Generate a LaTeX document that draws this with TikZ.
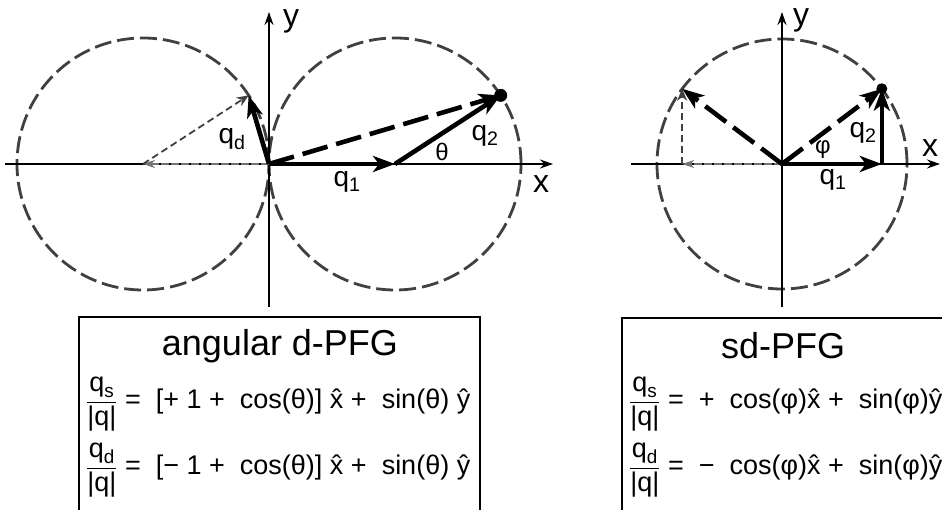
\documentclass[tikz,border=0pt]{standalone}
\usepackage{amsmath}
\usepackage{fontspec}
\setmainfont{Liberation Sans}
\usetikzlibrary{
    arrows.meta,
    positioning,
    calc
}

\tikzset{
    axis/.style={line width=1.6pt,-{Stealth[length=13pt,width=9pt]}},
    circ/.style={draw=black!75,line width=2.8pt,dash pattern=on 17pt off 6pt},
    vec/.style={line width=4.6pt,-{Stealth[length=22pt,width=16pt,inset=6pt]}},
    vecdash/.style={vec,dash pattern=on 26pt off 9pt},
    guide/.style={draw=black!75,line width=1.8pt,dash pattern=on 7pt off 4pt,
        -{Stealth[length=12pt,width=10pt]}},
    back/.style={draw=black!55,line width=2.2pt,dash pattern=on 8pt off 2pt,
        -{Stealth[length=12pt,width=8pt]}},
    lbl/.style={font=\fontsize{28}{32}\selectfont,inner sep=0pt},
    anglbl/.style={font=\fontsize{24}{28}\selectfont,inner sep=0pt},
    axlbl/.style={font=\fontsize{32}{36}\selectfont,inner sep=0pt},
    eqbox/.style={draw,line width=1.8pt},
    title/.style={font=\fontsize{36}{40}\selectfont,inner sep=0pt},
    eqrow/.style={font=\fontsize{27}{32}\selectfont,inner sep=0pt,anchor=west}
}

\begin{document}
\begin{tikzpicture}[x=1pt,y=1pt]

\useasboundingbox (0,0) rectangle (942,510);
\clip (0,0) rectangle (942,510);

% angular d-PFG
\coordinate (O1) at (269,346);
\coordinate (C1) at (395,346);
\coordinate (L1) at (143,346);
\coordinate (S1) at ($(C1)+(33:126)$);
\coordinate (D1) at ($(L1)+(33:126)$);
\coordinate (xa1) at (5,346);
\coordinate (xb1) at (553,346);
\coordinate (ya1) at (269,203);
\coordinate (yb1) at (269,498);

\draw[circ] (C1) circle (126);
\draw[circ] (L1) circle (126);

\draw[axis] (xa1) -- (xb1);
\draw[axis] (ya1) -- (yb1);

\draw[back] (O1) -- (L1);
\draw[guide] (L1) -- (D1);

\draw[vecdash] (O1) -- (S1);
\draw[vec] (O1) -- (D1);
\draw[vec] (O1) -- (C1);
\draw[vec] (C1) -- (S1);
\fill (S1) circle (6.5);

\node[axlbl] (y1) at (291,489) {y};
\node[axlbl] (x1) at (541,326) {x};
\node[lbl] (qd1) at (232,371) {q$_\text{d}$};
\node[lbl] (q11) at (347,328) {q$_\text{1}$};
\node[anglbl] (th1) at (442,358) {θ};
\node[lbl] (q21) at (485,374) {q$_\text{2}$};

% sd-PFG
\coordinate (O2) at (782,346);
\coordinate (S2) at ($(O2)+(37:125)$);
\coordinate (D2) at ($(O2)+(143:125)$);
\coordinate (P2) at (S2 |- O2);
\coordinate (M2) at (D2 |- O2);
\coordinate (xa2) at (631,346);
\coordinate (xb2) at (940,346);
\coordinate (ya2) at (782,203);
\coordinate (yb2) at (782,498);

\draw[circ] (O2) circle (125);

\draw[axis] (xa2) -- (xb2);
\draw[axis] (ya2) -- (yb2);

\draw[back] (O2) -- (M2);
\draw[guide] (M2) -- (D2);

\draw[vecdash] (O2) -- (S2);
\draw[vecdash] (O2) -- (D2);
\draw[vec] (O2) -- (P2);
\draw[vec] (P2) -- (S2);
\fill (S2) circle (5.5);

\node[axlbl] (y2) at (801,490) {y};
\node[axlbl] (x2) at (930,362) {x};
\node[anglbl] (ph2) at (823,360) {φ};
\node[lbl] (q22) at (863,377) {q$_\text{2}$};
\node[lbl] (q12) at (833,330) {q$_\text{1}$};

% Boxes
\draw[eqbox] (79,193) rectangle (480,-20);
\draw[eqbox] (622,192) rectangle (960,-20);

\node[title] (t1) at (280,164) {angular d-PFG};
\node[eqrow] (e11) at (86,106)
    {$\dfrac{\text{q}_\text{s}}{\text{|q|}}$ = \ [+ 1 + \ cos(θ)] x̂ + \ sin(θ) ŷ};
\node[eqrow] (e12) at (86,40)
    {$\dfrac{\text{q}_\text{d}}{\text{|q|}}$ = \ [− 1 + \ cos(θ)] x̂ + \ sin(θ) ŷ};

\node[title] (t2) at (783,164) {sd-PFG};
\node[eqrow] (e21) at (629,106)
    {$\dfrac{\text{q}_\text{s}}{\text{|q|}}$ = \ + \ cos(φ)x̂ + \ sin(φ)ŷ};
\node[eqrow] (e22) at (629,40)
    {$\dfrac{\text{q}_\text{d}}{\text{|q|}}$ = \ − \ cos(φ)x̂ + \ sin(φ)ŷ};

\end{tikzpicture}
\end{document}
